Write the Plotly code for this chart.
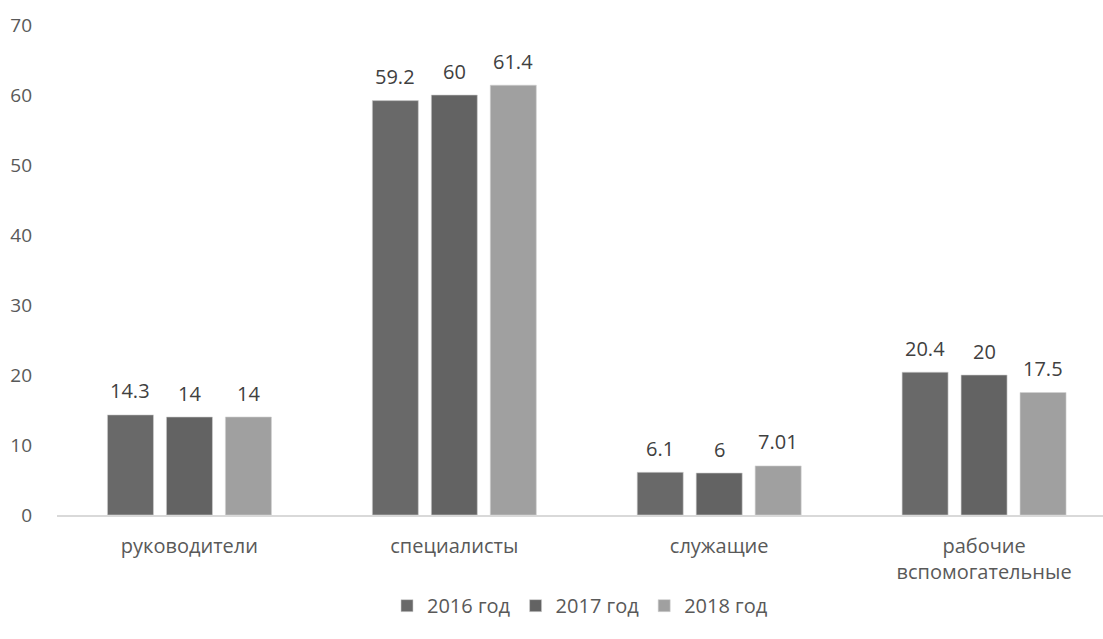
import plotly.graph_objects as go

categories = ["руководители", "специалисты", "служащие", "рабочие<br>вспомогательные"]
series_names = ["2016 год", "2017 год", "2018 год"]
values_2016 = [14.3, 59.2, 6.1, 20.4]
values_2017 = [14, 60, 6, 20]
values_2018 = [14, 61.4, 7.01, 17.5]
series_values = [values_2016, values_2017, values_2018]
series_labels = [["14.3", "59.2", "6.1", "20.4"], ["14", "60", "6", "20"], ["14", "61.4", "7.01", "17.5"]]
colors = ["#696969", "#636363", "#a0a0a0"]
y_ticks = [0, 10, 20, 30, 40, 50, 60, 70]

FONT = "'Open Sans', sans-serif"
BARGAP = 0.332
slot = (1 - BARGAP) / len(series_names)

fig = go.Figure()
for name, vals, col in zip(series_names, series_values, colors):
    fig.add_trace(go.Bar(
        name=name, x=categories, y=vals,
        marker=dict(color=col, line=dict(color="#d0d0d0", width=0.6)),
    ))

# value labels above each bar
annotations = []
for s, (vals, labels) in enumerate(zip(series_values, series_labels)):
    offset = (s - 1) * slot
    for i, (v, lab) in enumerate(zip(vals, labels)):
        annotations.append(dict(
            x=i + offset, y=v, xref="x", yref="y", text=lab, showarrow=False,
            yanchor="middle", yshift=24,
            font=dict(family=FONT, size=20, color="#404040"),
        ))

fig.update_layout(
    width=1103, height=639,
    margin=dict(l=57, r=0, t=25, b=124),
    paper_bgcolor="white", plot_bgcolor="white",
    barmode="group", bargap=BARGAP, bargroupgap=0.22,
    font=dict(family=FONT, size=20, color="#595959"),
    showlegend=True,
    legend=dict(orientation="h", x=0.5, xanchor="center", y=-0.185, yanchor="middle",
                font=dict(family=FONT, size=20, color="#595959"),
                itemwidth=30, traceorder="normal"),
    annotations=annotations,
    xaxis=dict(
        type="category", range=[-0.5, 3.449],
        showline=True, linecolor="#d9d9d9", linewidth=1.5,
        showgrid=False, ticks="", ticklabelstandoff=12,
        tickfont=dict(family=FONT, size=20, color="#595959"),
    ),
    yaxis=dict(
        range=[0, 70], tickvals=y_ticks, showgrid=False, zeroline=False,
        showline=False, ticks="", ticklabelstandoff=24,
        tickfont=dict(family=FONT, size=19, color="#595959"),
    ),
)

fig.write_html("out.html")
